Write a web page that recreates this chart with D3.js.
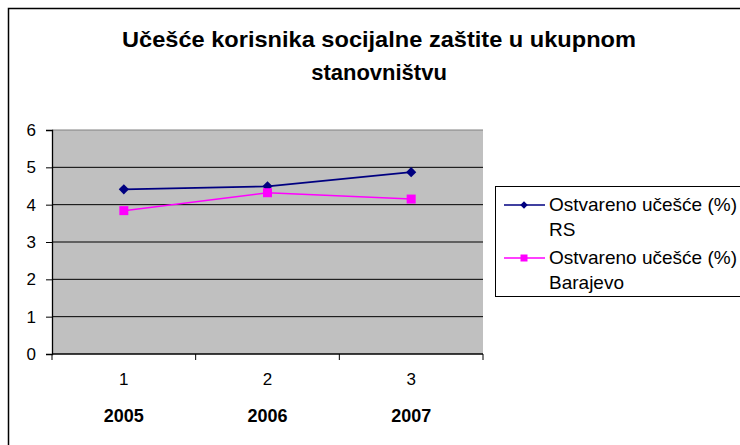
<!DOCTYPE html>
<html>
<head>
<meta charset="utf-8">
<script src="https://cdn.jsdelivr.net/npm/d3@7"></script>
<style>
  body { margin: 0; background: #fff; }
  svg { display: block; font-family: "Liberation Sans", Arial, sans-serif; }
</style>
</head>
<body>
<svg width="740" height="445"></svg>
<script>
var categories = ["1", "2", "3"];
var years = ["2005", "2006", "2007"];
var seriesNames = ["Ostvareno učešće (%) RS", "Ostvareno učešće (%) Barajevo"];
var rsValues = [4.41, 4.49, 4.87];
var barajevoValues = [3.84, 4.32, 4.15];
var yTicks = [0, 1, 2, 3, 4, 5, 6];

var svg = d3.select("svg");

// outer chart border (runs off the right and bottom edge)
svg.append("rect")
    .attr("x", 8.5).attr("y", 8.5)
    .attr("width", 760).attr("height", 460)
    .attr("fill", "white")
    .attr("stroke", "black")
    .attr("stroke-width", 1.5);

svg.append("text")
    .attr("x", 379).attr("y", 47)
    .attr("text-anchor", "middle")
    .style("font-weight", "bold").style("font-size", "22px")
    .attr("textLength", 514).attr("lengthAdjust", "spacingAndGlyphs")
    .text("Učešće korisnika socijalne zaštite u ukupnom");
svg.append("text")
    .attr("x", 379).attr("y", 80)
    .attr("text-anchor", "middle")
    .style("font-weight", "bold").style("font-size", "22px")
    .text("stanovništvu");

var pLeft = 52, pRight = 483, pTop = 130, pBottom = 354;

var x = d3.scaleBand().domain(categories).range([pLeft, pRight]);
var y = d3.scaleLinear().domain([0, 6]).range([pBottom, pTop]);

svg.append("rect")
    .attr("x", pLeft).attr("y", pTop)
    .attr("width", pRight - pLeft).attr("height", pBottom - pTop)
    .attr("fill", "#c0c0c0");

// grid lines
svg.append("g").selectAll("line")
    .data(yTicks.slice(1))
    .enter().append("line")
    .attr("x1", pLeft).attr("x2", pRight)
    .attr("y1", d => y(d)).attr("y2", d => y(d))
    .attr("stroke", d => d === 6 ? "#808080" : "black").attr("stroke-width", 1);

var yAxis = svg.append("g")
    .attr("transform", "translate(" + pLeft + ",0)")
    .call(d3.axisLeft(y).tickValues(yTicks).tickFormat(d3.format("d")).tickSize(6).tickPadding(10));
yAxis.selectAll("text").style("font-size", "17px").attr("fill", "black");
yAxis.select(".domain").attr("stroke-width", 1.3);

var xAxis = svg.append("g")
    .attr("transform", "translate(0," + pBottom + ")")
    .call(d3.axisBottom(x).tickSize(0).tickPadding(19));
xAxis.select(".domain").remove();
xAxis.selectAll("text").style("font-size", "17px").attr("fill", "black");

svg.append("line")
    .attr("x1", pLeft).attr("x2", pRight)
    .attr("y1", pBottom).attr("y2", pBottom)
    .attr("stroke", "black").attr("stroke-width", 1.3);

// category separators
var bounds = categories.map(c => x(c)).concat([pRight]);
svg.append("g").selectAll("line")
    .data(bounds)
    .enter().append("line")
    .attr("x1", d => d).attr("x2", d => d)
    .attr("y1", pBottom).attr("y2", pBottom + 6)
    .attr("stroke", "black");

svg.append("g").selectAll("text")
    .data(years)
    .enter().append("text")
    .attr("x", (d, i) => x(categories[i]) + x.bandwidth() / 2)
    .attr("y", 422)
    .attr("text-anchor", "middle")
    .style("font-weight", "bold").style("font-size", "18px")
    .text(d => d);

var line = d3.line()
    .x((d, i) => x(categories[i]) + x.bandwidth() / 2)
    .y(d => y(d));

svg.append("path").datum(rsValues)
    .attr("d", line).attr("fill", "none")
    .attr("stroke", "#000080").attr("stroke-width", 1.7);
svg.append("path").datum(barajevoValues)
    .attr("d", line).attr("fill", "none")
    .attr("stroke", "#ff00ff").attr("stroke-width", 1.5);

// diamond = square turned 45 degrees
var diamond = d3.symbol().type(d3.symbolSquare).size(52);
svg.append("g").selectAll("path")
    .data(rsValues)
    .enter().append("path")
    .attr("d", diamond)
    .attr("transform", (d, i) => "translate(" + (x(categories[i]) + x.bandwidth() / 2) + "," + y(d) + ") rotate(45)")
    .attr("fill", "#000080");

svg.append("g").selectAll("rect")
    .data(barajevoValues)
    .enter().append("rect")
    .attr("x", (d, i) => x(categories[i]) + x.bandwidth() / 2 - 4.5)
    .attr("y", d => y(d) - 4.5)
    .attr("width", 9).attr("height", 9)
    .attr("fill", "#ff00ff");

// legend
var lg = svg.append("g");
lg.append("rect")
    .attr("x", 495.5).attr("y", 186.5)
    .attr("width", 250).attr("height", 110)
    .attr("fill", "white").attr("stroke", "black");

var legendColors = ["#000080", "#ff00ff"];
var legendLines = [["Ostvareno učešće (%)", "RS"], ["Ostvareno učešće (%)", "Barajevo"]];
seriesNames.forEach(function(name, i) {
  var ly = 205 + i * 53;
  lg.append("line")
    .attr("x1", 504).attr("x2", 545)
    .attr("y1", ly).attr("y2", ly)
    .attr("stroke", legendColors[i]).attr("stroke-width", 1.3);
  if (i === 0) {
    lg.append("path").attr("d", d3.symbol().type(d3.symbolSquare).size(28))
      .attr("transform", "translate(524," + ly + ") rotate(45)")
      .attr("fill", legendColors[i]);
  } else {
    lg.append("rect").attr("x", 520.5).attr("y", ly - 3.5)
      .attr("width", 7).attr("height", 7).attr("fill", legendColors[i]);
  }
  var t = lg.append("text")
    .attr("x", 549).attr("y", ly + 6)
    .style("font-size", "19px");
  t.append("tspan").attr("x", 549).text(legendLines[i][0]);
  t.append("tspan").attr("x", 549).attr("dy", 25).text(legendLines[i][1]);
});
</script>
</body>
</html>
